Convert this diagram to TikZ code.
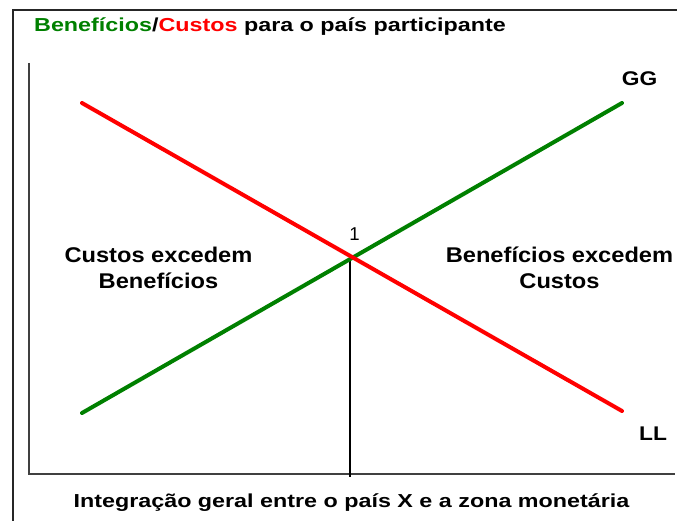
\documentclass[tikz,border=0pt]{standalone}
\usepackage{fontspec}
\setmainfont{Liberation Sans}
\newfontfamily\widefont{Liberation Sans}[FakeStretch=1.24]
\newfontfamily\midfont{Liberation Sans}[FakeStretch=1.11]
\newfontfamily\lblfont{Liberation Sans}[FakeStretch=1.15]
\definecolor{ggreen}{RGB}{0,128,0}
\definecolor{lred}{RGB}{255,0,0}
\begin{document}
\begin{tikzpicture}[x=1pt,y=-1pt,
  txt/.style={inner sep=0pt, anchor=base},
  titletxt/.style={txt, font=\widefont\bfseries\fontsize{18.8}{22}\selectfont},
  midtxt/.style={txt, font=\midfont\bfseries\fontsize{21.3}{26}\selectfont},
  curvelbl/.style={txt, font=\lblfont\bfseries\fontsize{19.8}{24}\selectfont},
  curve/.style={line width=4pt, line cap=round},
  axis/.style={line width=1.1pt, draw=black!75},
  frameline/.style={line width=1.4pt, draw=black!85}]
\useasboundingbox (0,0) rectangle (677,521);
% frame
\coordinate (fTL) at (13,10);
\coordinate (fTR) at (677,10);
\coordinate (fBL) at (13,521);
\draw[frameline] (fBL) -- (fTL) -- (fTR);
% axes
\coordinate (yTop) at (29,63);
\coordinate (origin) at (29,474);
\coordinate (xLeft) at (28,474);
\coordinate (xEnd) at (675,474);
\draw[axis] (yTop) -- (origin);
\draw[axis] (xLeft) -- (xEnd);
% curves
\coordinate (g1) at (82,413);
\coordinate (g2) at (622,103);
\coordinate (r1) at (82,103);
\coordinate (r2) at (622,411);
\coordinate (cross) at (350,259);
\coordinate (foot) at (350,477);
\draw[line width=1.3pt] (cross) -- (foot);
\draw[curve, ggreen] (g1) -- (g2);
\draw[curve, lred] (r1) -- (r2);
% labels
\node[titletxt, anchor=base west] (title) at (34,31.7)
  {\textcolor{ggreen}{Benefícios}/\textcolor{lred}{Custos} para o país participante};
\node[titletxt] (xlabel) at (351.5,507) {Integração geral entre o país X e a zona monetária};
\node[midtxt] (cl1) at (158.5,262) {Custos excedem};
\node[midtxt] (cl2) at (158.5,288) {Benefícios};
\node[midtxt] (bl1) at (559.5,262) {Benefícios excedem};
\node[midtxt] (bl2) at (559.5,288) {Custos};
\node[curvelbl] (gg) at (639.7,86) {GG};
\node[curvelbl] (ll) at (653,440.7) {LL};
\node[txt, font=\fontsize{18.6}{22}\selectfont] (one) at (354.5,240.7) {1};
\end{tikzpicture}
\end{document}
